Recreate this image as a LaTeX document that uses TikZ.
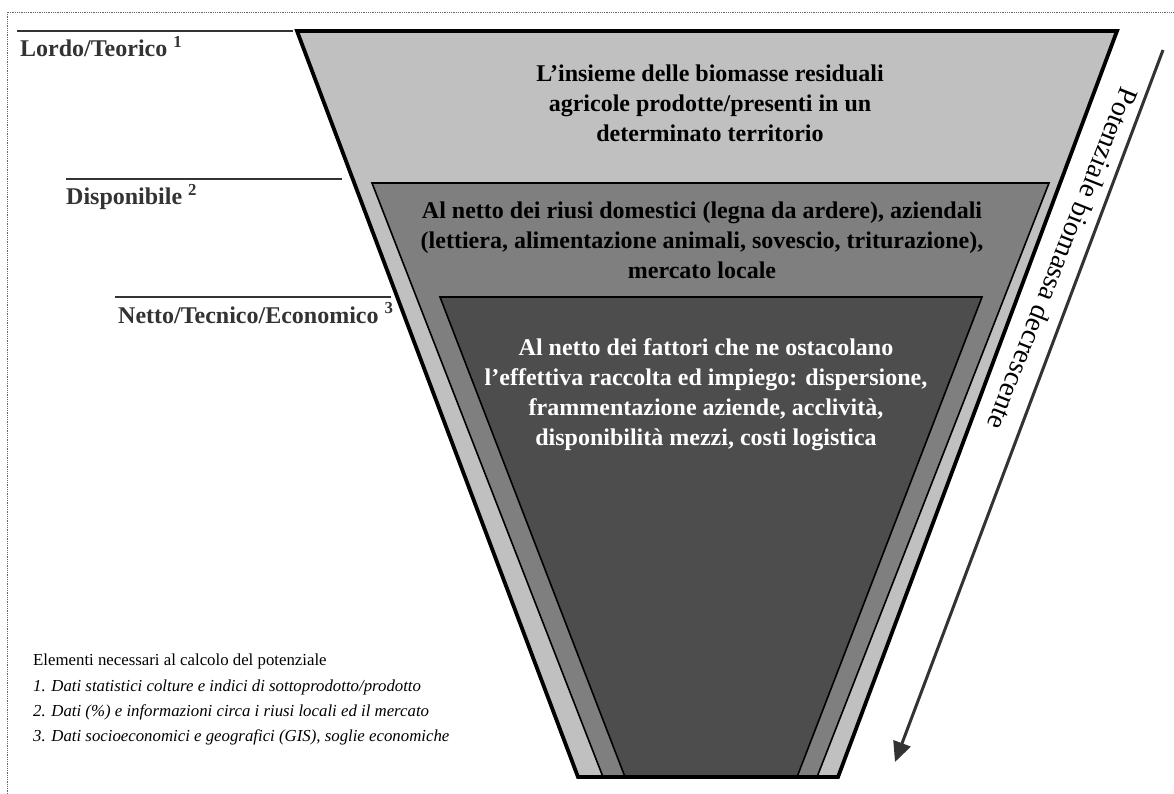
\documentclass[tikz,border=0pt]{standalone}
\usepackage{fontspec}
\setmainfont{Liberation Serif}
\usetikzlibrary{arrows.meta}

\definecolor{layerA}{HTML}{C0C0C0}
\definecolor{layerB}{HTML}{7F7F7F}
\definecolor{layerC}{HTML}{4D4D4D}
\definecolor{inkgray}{HTML}{333333}
\definecolor{framegray}{HTML}{666666}

\begin{document}
\begin{tikzpicture}[x=1pt,y=-1pt,
  innerlayer/.style={draw=black, line width=1.6pt},
  leader/.style={draw=inkgray, line width=1.4pt},
  levellabel/.style={font=\fontsize{24}{28}\selectfont\bfseries, text=inkgray,
    anchor=base west, inner sep=0pt},
  bodytext/.style={font=\fontsize{24}{30}\selectfont\bfseries, align=center,
    inner sep=0pt, anchor=north},
  notetext/.style={font=\fontsize{16.8}{20}\selectfont, anchor=base west, inner sep=0pt},
  noteitem/.style={notetext, font=\fontsize{16.8}{20}\selectfont\itshape},
  trendarrow/.style={draw=inkgray, line width=3pt, -{Triangle[length=20pt,width=18pt]}}
]
\useasboundingbox (0,0) rectangle (1174,794);

% page frame (dotted)
\draw[framegray, densely dotted, line width=0.8pt] (7,794) -- (7,12) -- (1174,12);

% funnel corners
\coordinate (oTL) at (297,31);  \coordinate (oTR) at (1117,31);
\coordinate (oBR) at (838,777); \coordinate (oBL) at (578,777);
\coordinate (mTL) at (372,183); \coordinate (mTR) at (1049,183);
\coordinate (mBR) at (817,777); \coordinate (mBL) at (603,777);
\coordinate (iTL) at (440,297); \coordinate (iTR) at (982,297);
\coordinate (iBR) at (797,777); \coordinate (iBL) at (625,777);

% funnel layers
\fill[layerA] (oTL) -- (oTR) -- (oBR) -- (oBL) -- cycle;
\filldraw[fill=layerB, innerlayer] (mTL) -- (mTR) -- (mBR) -- (mBL) -- cycle;
\filldraw[fill=layerC, innerlayer] (iTL) -- (iTR) -- (iBR) -- (iBL) -- cycle;
\draw[black, line width=3.8pt] (oTL) -- (oTR) -- (oBR) -- (oBL) -- cycle;

% layer descriptions
\node[bodytext, text=black] (descA) at (710,64.5)
  {L’insieme delle biomasse residuali\\agricole prodotte/presenti in un\\determinato territorio};
\node[bodytext, text=black] (descB) at (702,202)
  {Al netto dei riusi domestici (legna da ardere), aziendali\\(lettiera, alimentazione animali, sovescio, triturazione),\\mercato locale};
\node[bodytext, text=white] (descC) at (706,338.5)
  {Al netto dei fattori che ne ostacolano\\l’effettiva raccolta ed impiego: dispersione,\\frammentazione aziende, acclività,\\disponibilità mezzi, costi logistica};

% level labels with their leader lines
\coordinate (lineA1) at (17,31);  \coordinate (lineA2) at (293,31);
\coordinate (lineB1) at (66,179); \coordinate (lineB2) at (342,179);
\coordinate (lineC1) at (115,297); \coordinate (lineC2) at (391,297);
\draw[leader] (lineA1) -- (lineA2);
\draw[leader] (lineB1) -- (lineB2);
\draw[leader] (lineC1) -- (lineC2);
\node[levellabel] (lvlA) at (20,57) {Lordo/Teorico \textsuperscript{1}};
\node[levellabel] (lvlB) at (66,205) {Disponibile \textsuperscript{2}};
\node[levellabel] (lvlC) at (118,323) {Netto/Tecnico/Economico \textsuperscript{3}};

% trend arrow with its label
\coordinate (trendTop) at (1163,50);
\coordinate (trendTip) at (895,762);
\draw[trendarrow] (trendTop) -- (trendTip);
\node[rotate=-111.7, font=\fontsize{28}{32}\selectfont, inner sep=0pt] (trendLabel)
  at (1063,259) {Potenziale biomassa decrescente};

% notes
\node[notetext] (noteHead) at (33,665) {Elementi necessari al calcolo del potenziale};
\node[noteitem] (note1) at (33,691)
  {1. Dati statistici colture e indici di sottoprodotto/prodotto};
\node[noteitem] (note2) at (33,716)
  {2. Dati (\%) e informazioni circa i riusi locali ed il mercato};
\node[noteitem] (note3) at (33,741)
  {3. Dati socioeconomici e geografici (GIS), soglie economiche};
\end{tikzpicture}
\end{document}
